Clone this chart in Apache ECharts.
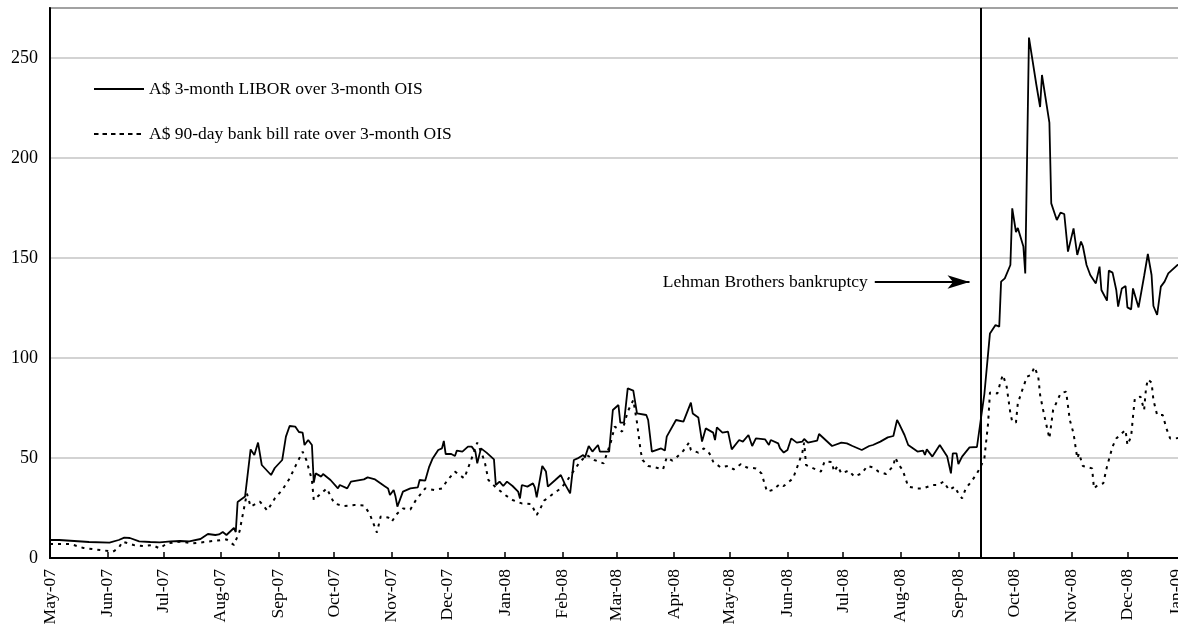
<!DOCTYPE html>
<html>
<head>
<meta charset="utf-8">
<script src="https://cdn.jsdelivr.net/npm/echarts@6/dist/echarts.min.js"></script>
<style>
  html, body { margin: 0; padding: 0; background: #fff; }
  #chart { width: 1178px; height: 627px; }
</style>
</head>
<body>
<div id="chart"></div>
<script>
// Spreads over 3-month OIS, basis points
const liborSpread = [
  ['2007-05-01', 9], ['2007-05-06', 9], ['2007-05-14', 8.5], ['2007-05-22', 8],
  ['2007-06-02', 7.7], ['2007-06-07', 9], ['2007-06-10', 10.2], ['2007-06-13', 10],
  ['2007-06-18', 8.3], ['2007-06-24', 8], ['2007-06-29', 7.8], ['2007-07-05', 8.3],
  ['2007-07-10', 8.5], ['2007-07-15', 8.3], ['2007-07-21', 9.5], ['2007-07-25', 12],
  ['2007-07-29', 11.5], ['2007-07-31', 11.8], ['2007-08-02', 13], ['2007-08-04', 11.5],
  ['2007-08-08', 15], ['2007-08-09', 13], ['2007-08-10', 28], ['2007-08-14', 30.7],
  ['2007-08-17', 54.3], ['2007-08-19', 51.5], ['2007-08-21', 57.7], ['2007-08-23', 46.5],
  ['2007-08-28', 41.5], ['2007-08-30', 45], ['2007-08-31', 45.3], ['2007-09-03', 49],
  ['2007-09-05', 60.7], ['2007-09-07', 66], ['2007-09-10', 65.7], ['2007-09-12', 63],
  ['2007-09-14', 62.7], ['2007-09-15', 56.5], ['2007-09-17', 59], ['2007-09-19', 56.5],
  ['2007-09-20', 37.7], ['2007-09-21', 42.3], ['2007-09-24', 40.7], ['2007-09-25', 42],
  ['2007-09-29', 39], ['2007-10-03', 34.8], ['2007-10-04', 36.5], ['2007-10-08', 34.8],
  ['2007-10-10', 38.2], ['2007-10-17', 39.3], ['2007-10-19', 40.3], ['2007-10-23', 39.3],
  ['2007-10-28', 36], ['2007-10-30', 34.8], ['2007-10-31', 31.5], ['2007-11-02', 34],
  ['2007-11-03', 30.7], ['2007-11-04', 25.7], ['2007-11-07', 33.2], ['2007-11-11', 34.8],
  ['2007-11-15', 35.3], ['2007-11-16', 39], ['2007-11-19', 38.7], ['2007-11-21', 45.3],
  ['2007-11-23', 49.8], ['2007-11-26', 54], ['2007-11-28', 54.8], ['2007-11-29', 58.5],
  ['2007-11-30', 52], ['2007-12-03', 52], ['2007-12-05', 51], ['2007-12-06', 53.7],
  ['2007-12-09', 53.2], ['2007-12-12', 55.7], ['2007-12-14', 55.7], ['2007-12-16', 53.2],
  ['2007-12-17', 47.3], ['2007-12-19', 54.8], ['2007-12-22', 52.7], ['2007-12-26', 49.3],
  ['2007-12-27', 36.5], ['2007-12-29', 38.2], ['2007-12-31', 36], ['2008-01-02', 38.2],
  ['2008-01-05', 36], ['2008-01-08', 33.2], ['2008-01-09', 29.8], ['2008-01-10', 36.5],
  ['2008-01-13', 35.7], ['2008-01-16', 37.3], ['2008-01-17', 35.3], ['2008-01-18', 30.3],
  ['2008-01-21', 46], ['2008-01-23', 43.2], ['2008-01-24', 35.7], ['2008-01-28', 39],
  ['2008-01-31', 41.5], ['2008-02-02', 37.3], ['2008-02-05', 32.3], ['2008-02-07', 49],
  ['2008-02-09', 49.8], ['2008-02-10', 49], ['2008-02-12', 51.5], ['2008-02-13', 50.3],
  ['2008-02-15', 56], ['2008-02-17', 53.2], ['2008-02-20', 56.5], ['2008-02-21', 53.2],
  ['2008-02-26', 53.2], ['2008-02-28', 74], ['2008-03-02', 76.5], ['2008-03-03', 67.7],
  ['2008-03-05', 67.7], ['2008-03-07', 84.8], ['2008-03-10', 83.7], ['2008-03-12', 72.3],
  ['2008-03-17', 71.5], ['2008-03-18', 69], ['2008-03-20', 53.2], ['2008-03-25', 54.8],
  ['2008-03-27', 53.7], ['2008-03-28', 60.7], ['2008-04-02', 69], ['2008-04-06', 68.2],
  ['2008-04-10', 77.7], ['2008-04-11', 72.3], ['2008-04-14', 70.3], ['2008-04-16', 58.2],
  ['2008-04-18', 64.8], ['2008-04-22', 62.7], ['2008-04-23', 59], ['2008-04-24', 65.3],
  ['2008-04-27', 62.7], ['2008-04-30', 63.2], ['2008-05-02', 54.3], ['2008-05-06', 59],
  ['2008-05-08', 58.2], ['2008-05-11', 61.5], ['2008-05-13', 56], ['2008-05-15', 59.8],
  ['2008-05-16', 60.7], ['2008-05-20', 59.3], ['2008-05-22', 56.5], ['2008-05-23', 59],
  ['2008-05-27', 57.3], ['2008-05-28', 54.8], ['2008-05-30', 52.7], ['2008-06-01', 54],
  ['2008-06-03', 59.8], ['2008-06-06', 57.7], ['2008-06-09', 58.2], ['2008-06-10', 59.5],
  ['2008-06-12', 57.7], ['2008-06-17', 58.7], ['2008-06-18', 62], ['2008-06-25', 56],
  ['2008-06-30', 57.7], ['2008-07-03', 57.3], ['2008-07-06', 56], ['2008-07-11', 54],
  ['2008-07-15', 56], ['2008-07-17', 56.5], ['2008-07-21', 58.2], ['2008-07-25', 60.3],
  ['2008-07-28', 61], ['2008-07-30', 69], ['2008-07-31', 67.3], ['2008-08-03', 61.5],
  ['2008-08-05', 56.5], ['2008-08-10', 53.2], ['2008-08-13', 53.7], ['2008-08-14', 51.5],
  ['2008-08-15', 54.3], ['2008-08-18', 50.7], ['2008-08-22', 56.5], ['2008-08-26', 50.7],
  ['2008-08-28', 42.3], ['2008-08-29', 52.3], ['2008-08-31', 52.3], ['2008-09-01', 47],
  ['2008-09-03', 50.7], ['2008-09-07', 55.3], ['2008-09-11', 55.5], ['2008-09-12', 55],
  ['2008-09-15', 82], ['2008-09-18', 112.3], ['2008-09-21', 116.5], ['2008-09-23', 115.7],
  ['2008-09-24', 138.2], ['2008-09-26', 139.8], ['2008-09-29', 146.5], ['2008-09-30', 174.8],
  ['2008-10-02', 163], ['2008-10-03', 165], ['2008-10-06', 155.7], ['2008-10-07', 142.3],
  ['2008-10-09', 260.2], ['2008-10-13', 236.5], ['2008-10-15', 225.5], ['2008-10-16', 241.5],
  ['2008-10-20', 217.7], ['2008-10-21', 177.3], ['2008-10-24', 169], ['2008-10-26', 172.7],
  ['2008-10-28', 172], ['2008-10-30', 153.2], ['2008-11-02', 164.8], ['2008-11-04', 151.5],
  ['2008-11-05', 151], ['2008-11-06', 158.2], ['2008-11-07', 156], ['2008-11-09', 146.5],
  ['2008-11-11', 141.5], ['2008-11-14', 137.3], ['2008-11-16', 145.7], ['2008-11-17', 134],
  ['2008-11-20', 128.7], ['2008-11-21', 143.7], ['2008-11-22', 143], ['2008-11-23', 142.7],
  ['2008-11-25', 134], ['2008-11-26', 125.7], ['2008-11-28', 134.8], ['2008-11-30', 136],
  ['2008-12-01', 125.3], ['2008-12-03', 124.3], ['2008-12-04', 134.8], ['2008-12-07', 125.3],
  ['2008-12-10', 141], ['2008-12-12', 152], ['2008-12-14', 141.5], ['2008-12-15', 126],
  ['2008-12-17', 121.5], ['2008-12-19', 135.7], ['2008-12-21', 138.2], ['2008-12-23', 142.3],
  ['2008-12-24', 142.3], ['2008-12-28', 146.5], ['2008-12-31', 148]
];

const bankBillSpread = [
  ['2007-05-01', 7], ['2007-05-12', 7], ['2007-05-19', 5], ['2007-05-28', 4],
  ['2007-06-04', 3.2], ['2007-06-07', 5], ['2007-06-09', 8.2], ['2007-06-15', 6.5],
  ['2007-06-20', 6], ['2007-06-25', 6.5], ['2007-06-29', 4.8], ['2007-07-03', 7.3],
  ['2007-07-10', 8.2], ['2007-07-17', 7.3], ['2007-07-25', 8.2], ['2007-08-04', 9.3],
  ['2007-08-08', 6.5], ['2007-08-11', 13.2], ['2007-08-15', 32.3], ['2007-08-17', 25.7],
  ['2007-08-22', 28.2], ['2007-08-26', 23.7], ['2007-08-30', 29.8], ['2007-09-03', 34],
  ['2007-09-07', 39.8], ['2007-09-10', 45.7], ['2007-09-14', 53.2], ['2007-09-16', 49],
  ['2007-09-19', 39], ['2007-09-20', 29], ['2007-09-23', 31.5], ['2007-09-27', 34.8],
  ['2007-10-01', 27.3], ['2007-10-06', 26], ['2007-10-12', 26.5], ['2007-10-17', 26.3],
  ['2007-10-20', 22.3], ['2007-10-24', 12.7], ['2007-10-26', 20.7], ['2007-10-30', 20.3],
  ['2007-11-01', 18.2], ['2007-11-04', 22.3], ['2007-11-07', 24.8], ['2007-11-11', 24.3],
  ['2007-11-14', 29], ['2007-11-19', 34.8], ['2007-11-24', 34], ['2007-11-28', 34.8],
  ['2007-12-01', 39], ['2007-12-05', 43.2], ['2007-12-10', 39.8], ['2007-12-14', 49.8],
  ['2007-12-17', 57.7], ['2007-12-19', 53.2], ['2007-12-21', 48.2], ['2007-12-23', 39],
  ['2007-12-27', 35.3], ['2008-01-01', 31.5], ['2008-01-05', 29], ['2008-01-10', 27.3],
  ['2008-01-15', 27], ['2008-01-18', 21.5], ['2008-01-20', 24.8], ['2008-01-22', 28.7],
  ['2008-01-26', 31.5], ['2008-01-31', 34.8], ['2008-02-03', 38.2], ['2008-02-07', 43.7],
  ['2008-02-10', 47.7], ['2008-02-14', 51.5], ['2008-02-18', 49], ['2008-02-23', 47.3],
  ['2008-02-27', 58.2], ['2008-02-29', 65.7], ['2008-03-04', 63.2], ['2008-03-07', 73.2],
  ['2008-03-10', 79], ['2008-03-12', 67.7], ['2008-03-14', 53.2], ['2008-03-15', 49],
  ['2008-03-18', 46], ['2008-03-22', 45.3], ['2008-03-26', 44.3], ['2008-03-28', 50.3],
  ['2008-03-31', 48.7], ['2008-04-02', 50], ['2008-04-06', 53.7], ['2008-04-09', 57.7],
  ['2008-04-10', 54], ['2008-04-14', 52.7], ['2008-04-17', 54.8], ['2008-04-20', 52.3],
  ['2008-04-22', 48.2], ['2008-04-26', 45.3], ['2008-04-30', 46], ['2008-05-03', 44.3],
  ['2008-05-07', 47], ['2008-05-10', 45.3], ['2008-05-15', 44.8], ['2008-05-18', 42.3],
  ['2008-05-21', 33.2], ['2008-05-24', 34], ['2008-05-28', 37], ['2008-05-30', 36],
  ['2008-06-04', 39.8], ['2008-06-06', 44.8], ['2008-06-09', 52.7], ['2008-06-10', 57.7],
  ['2008-06-11', 46.5], ['2008-06-15', 44.8], ['2008-06-19', 43.2], ['2008-06-21', 48.3],
  ['2008-06-25', 48], ['2008-06-26', 43.2], ['2008-06-28', 46], ['2008-06-30', 42.3],
  ['2008-07-04', 43.7], ['2008-07-07', 40.7], ['2008-07-11', 42.3], ['2008-07-14', 46],
  ['2008-07-17', 45.3], ['2008-07-20', 43.2], ['2008-07-24', 42], ['2008-07-28', 46],
  ['2008-07-29', 50.3], ['2008-07-31', 46.5], ['2008-08-02', 44], ['2008-08-05', 35.7],
  ['2008-08-10', 34.8], ['2008-08-13', 34.8], ['2008-08-18', 36.5], ['2008-08-21', 36.5],
  ['2008-08-24', 38.2], ['2008-08-27', 34], ['2008-08-30', 35.7], ['2008-09-01', 32.3],
  ['2008-09-03', 29.8], ['2008-09-05', 34.8], ['2008-09-08', 38.2], ['2008-09-11', 42.3],
  ['2008-09-13', 45.7], ['2008-09-15', 49.8], ['2008-09-17', 67.3], ['2008-09-18', 82.7],
  ['2008-09-22', 82.3], ['2008-09-24', 89], ['2008-09-25', 91.5], ['2008-09-27', 85.7],
  ['2008-09-29', 72.3], ['2008-09-30', 68.2], ['2008-10-02', 67.7], ['2008-10-03', 77.3],
  ['2008-10-06', 85.7], ['2008-10-08', 90.7], ['2008-10-10', 91.5], ['2008-10-12', 95.5],
  ['2008-10-14', 90.7], ['2008-10-15', 81.5], ['2008-10-17', 72.3], ['2008-10-20', 59.8],
  ['2008-10-22', 74], ['2008-10-26', 82.3], ['2008-10-29', 83.2], ['2008-10-31', 69],
  ['2008-11-02', 62.3], ['2008-11-04', 49.8], ['2008-11-05', 52.3], ['2008-11-07', 46],
  ['2008-11-12', 44.8], ['2008-11-13', 34.8], ['2008-11-15', 36.5], ['2008-11-18', 37.3],
  ['2008-11-20', 45.7], ['2008-11-23', 55.7], ['2008-11-25', 59.8], ['2008-11-27', 61.5],
  ['2008-11-30', 64], ['2008-12-01', 56.5], ['2008-12-03', 60.7], ['2008-12-04', 70.7],
  ['2008-12-05', 79.8], ['2008-12-08', 80.7], ['2008-12-10', 74], ['2008-12-11', 84.8],
  ['2008-12-12', 89.3], ['2008-12-14', 87.7], ['2008-12-15', 79], ['2008-12-17', 71.5],
  ['2008-12-20', 71.5], ['2008-12-22', 64.8], ['2008-12-24', 59.8], ['2008-12-27', 59.8],
  ['2008-12-31', 60.3]
];

const seriesNames = [
  'A$ 3-month LIBOR over 3-month OIS',
  'A$ 90-day bank bill rate over 3-month OIS'
];

const monthStarts = [
  '2007-05-01', '2007-06-01', '2007-07-01', '2007-08-01', '2007-09-01', '2007-10-01',
  '2007-11-01', '2007-12-01', '2008-01-01', '2008-02-01', '2008-03-01', '2008-04-01',
  '2008-05-01', '2008-06-01', '2008-07-01', '2008-08-01', '2008-09-01', '2008-10-01',
  '2008-11-01', '2008-12-01', '2009-01-01'
];
const monthLabels = [
  'May-07', 'Jun-07', 'Jul-07', 'Aug-07', 'Sep-07', 'Oct-07', 'Nov-07', 'Dec-07',
  'Jan-08', 'Feb-08', 'Mar-08', 'Apr-08', 'May-08', 'Jun-08', 'Jul-08', 'Aug-08',
  'Sep-08', 'Oct-08', 'Nov-08', 'Dec-08', 'Jan-09'
];
const yTicks = [0, 50, 100, 150, 200, 250];

const eventDate = '2008-09-13';
const eventText = 'Lehman Brothers bankruptcy';
const arrowFrom = ['2008-07-18', 138];
const arrowTo = ['2008-09-07', 138];

// dates become millisecond timestamps on a plain value axis
function ts(s) {
  const p = s.split('-').map(Number);
  return Date.UTC(p[0], p[1] - 1, p[2]);
}
const toPoints = arr => arr.map(d => [ts(d[0]), d[1]]);
const monthTs = monthStarts.map(ts);
const lastMonthTs = monthTs[monthTs.length - 1];
const labelByTs = {};
monthTs.forEach((t, i) => { labelByTs[t] = monthLabels[i]; });

const FONT = '"Liberation Serif", "Times New Roman", serif';

const chart = echarts.init(document.getElementById('chart'), null, { renderer: 'canvas' });

chart.setOption({
  animation: false,
  backgroundColor: '#fff',
  textStyle: { fontFamily: FONT, color: '#000' },
  grid: {
    left: 50, right: -7, top: 8, bottom: 69,
    outerBoundsMode: 'none',
    containLabel: false,
    show: true, borderColor: '#000', borderWidth: 1.5, backgroundColor: 'transparent'
  },
  legend: {
    orient: 'vertical',
    left: 88, top: 75,
    padding: 5,
    itemWidth: 50, itemHeight: 14, itemGap: 27,
    selectedMode: false,
    itemStyle: { opacity: 0, borderWidth: 0 },
    textStyle: { fontFamily: FONT, fontSize: 17.5, color: '#000' },
    data: [
      { name: seriesNames[0] },
      { name: seriesNames[1], lineStyle: { type: [4.5, 4], width: 1.8 } }
    ]
  },
  xAxis: {
    type: 'value',
    min: monthTs[0],
    max: lastMonthTs,
    axisLine: { show: true, lineStyle: { color: '#000', width: 2 } },
    axisTick: { show: true, inside: true, length: 6, customValues: monthTs,
                lineStyle: { color: '#000', width: 1.5 } },
    axisLabel: {
      customValues: monthTs,
      rotate: 90,
      margin: 11,
      fontFamily: FONT, fontSize: 17.5, color: '#000',
      // the closing label sits at the very edge, nudge it inward
      formatter: v => v === lastMonthTs ? '{edge|' + labelByTs[v] + '}' : (labelByTs[v] || ''),
      rich: {
        edge: { fontFamily: FONT, fontSize: 17.5, color: '#000', padding: [0, 0, 17, 0] }
      }
    },
    splitLine: { show: false }
  },
  yAxis: {
    type: 'value',
    min: 0, max: 275, interval: 50,
    axisLine: { show: true, lineStyle: { color: '#000', width: 2 } },
    axisTick: { show: false },
    axisLabel: {
      customValues: yTicks,
      margin: 12,
      fontFamily: FONT, fontSize: 18, color: '#000'
    },
    splitLine: { show: true, lineStyle: { color: '#c4c4c4', width: 1.5 } }
  },
  series: [
    {
      name: seriesNames[0],
      type: 'line',
      data: toPoints(liborSpread),
      symbol: 'none',
      lineStyle: { color: '#000', width: 1.8 },
      itemStyle: { color: '#000' },
      z: 3,
      markLine: {
        silent: true,
        animation: false,
        symbol: ['none', 'none'],
        data: [
          {
            xAxis: ts(eventDate),
            lineStyle: { color: '#000', width: 2, type: 'solid' },
            label: { show: false }
          },
          [
            {
              coord: [ts(arrowFrom[0]), arrowFrom[1]],
              symbol: 'none',
              lineStyle: { color: '#000', width: 2, type: 'solid' },
              label: {
                show: true, position: 'start', distance: 7,
                formatter: eventText,
                fontFamily: FONT, fontSize: 17.5, color: '#000'
              }
            },
            {
              coord: [ts(arrowTo[0]), arrowTo[1]],
              symbol: 'arrow',
              symbolSize: [10, 22]
            }
          ]
        ]
      }
    },
    {
      name: seriesNames[1],
      type: 'line',
      data: toPoints(bankBillSpread),
      symbol: 'none',
      lineStyle: { color: '#000', width: 2, type: [3, 5] },
      itemStyle: { color: '#000' },
      z: 2
    }
  ]
});
</script>
</body>
</html>
